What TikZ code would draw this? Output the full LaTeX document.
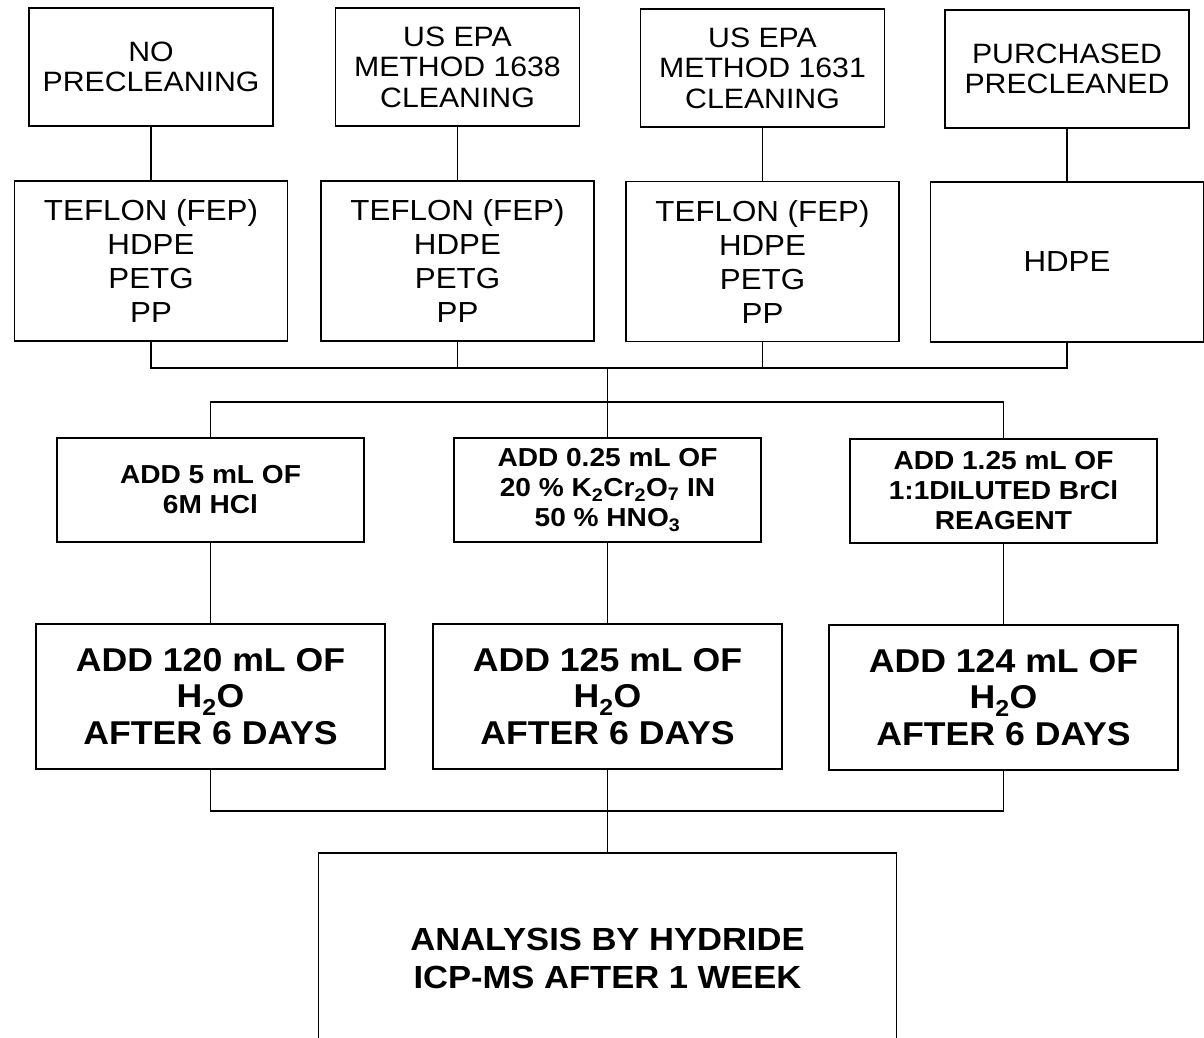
\documentclass[tikz,border=0pt]{standalone}
\usepackage{fontspec}
\setmainfont{Liberation Sans}[FakeStretch=1.08]
\usepackage{tikz}
\usetikzlibrary{positioning}

\begin{document}
\begin{tikzpicture}[x=1pt, y=-1pt, line width=1.2pt,
  box/.style={draw, align=center, inner sep=0pt},
  cleanbox/.style={box, minimum width=244, minimum height=118, font=\fontsize{28}{30.5}\selectfont},
  bottlebox/.style={box, minimum width=273, minimum height=160, font=\fontsize{29}{34}\selectfont},
  reagentbox/.style={box, minimum width=307, minimum height=104, font=\bfseries\fontsize{26}{30}\selectfont},
  waterbox/.style={box, minimum width=349, minimum height=145, font=\bfseries\fontsize{33}{36.5}\selectfont}]
  \useasboundingbox (0,0) rectangle (1204,1038);
  \clip (0,0) rectangle (1204,1038);
  \node[cleanbox] (noclean) at (151,67) {NO\\PRECLEANING};
  \node[cleanbox] (epa1638) at (457.5,67) {US EPA\\METHOD 1638\\CLEANING};
  \node[cleanbox] (epa1631) at (762.5,68) {US EPA\\METHOD 1631\\CLEANING};
  \node[cleanbox] (bought) at (1067,69) {PURCHASED\\PRECLEANED};
  \node[bottlebox] (mat1) at (151,261) {TEFLON (FEP)\\HDPE\\PETG\\PP};
  \node[bottlebox] (mat2) at (457.5,261) {TEFLON (FEP)\\HDPE\\PETG\\PP};
  \node[bottlebox] (mat3) at (762.5,261.5) {TEFLON (FEP)\\HDPE\\PETG\\PP};
  \node[bottlebox] (mat4) at (1067,262) {HDPE};
  \node[reagentbox] (hcl) at (210.5,490) {ADD 5 mL OF\\6M HCl};
  \node[reagentbox] (dichromate) at (607.5,490) {ADD 0.25 mL OF\\20 \% K\textsubscript{2}Cr\textsubscript{2}O\textsubscript{7} IN\\50 \% HNO\textsubscript{3}};
  \node[reagentbox] (brcl) at (1003.5,491) {ADD 1.25 mL OF\\1:1DILUTED BrCl\\REAGENT};
  \node[waterbox] (water1) at (210.5,696.5) {ADD 120 mL OF\\H\textsubscript{2}O\\AFTER 6 DAYS};
  \node[waterbox] (water2) at (607.5,696.5) {ADD 125 mL OF\\H\textsubscript{2}O\\AFTER 6 DAYS};
  \node[waterbox] (water3) at (1003.5,697.5) {ADD 124 mL OF\\H\textsubscript{2}O\\AFTER 6 DAYS};
  \node[box, minimum width=578, minimum height=210, font=\bfseries\fontsize{32}{38}\selectfont] (analysis) at (607.5,958) {ANALYSIS BY HYDRIDE\\ICP-MS AFTER 1 WEEK};
  \coordinate (join1) at (607.5,368);
  \coordinate (join2) at (607.5,402);
  \coordinate (join3) at (607.5,811);
  \draw (noclean) -- (mat1);
  \draw (epa1638) -- (mat2);
  \draw (epa1631) -- (mat3);
  \draw (bought) -- (mat4);
  \draw (mat1.south) |- (join1) -| (mat4.south);
  \draw (mat2.south) -- (mat2.south |- join1);
  \draw (mat3.south) -- (mat3.south |- join1);
  \draw (join1) -- (dichromate.north);
  \draw (hcl.north) |- (join2) -| (brcl.north);
  \draw (hcl) -- (water1);
  \draw (dichromate) -- (water2);
  \draw (brcl) -- (water3);
  \draw (water1.south) |- (join3) -| (water3.south);
  \draw (water2.south) -- (analysis.north);
\end{tikzpicture}
\end{document}
